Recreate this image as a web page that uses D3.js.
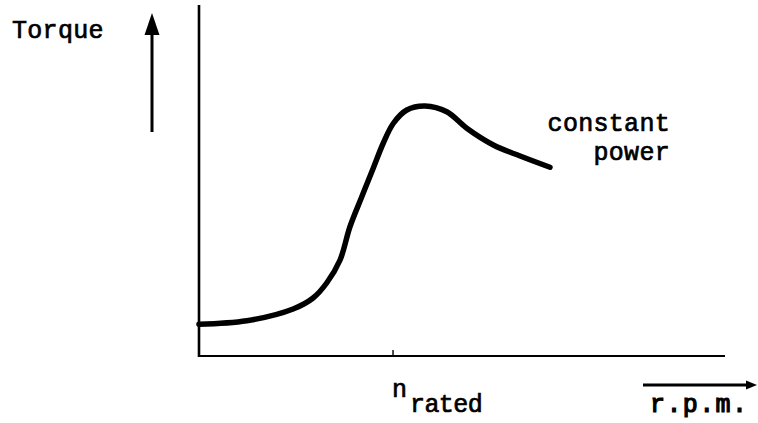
<!DOCTYPE html>
<html>
<head>
<meta charset="utf-8">
<script src="https://cdn.jsdelivr.net/npm/d3@7"></script>
<style>
  html, body { margin: 0; padding: 0; background: #fff; }
  svg { display: block; }
  text { font-family: "Liberation Mono", "Courier New", monospace; fill: #000;
         stroke: #000; stroke-width: 0.7px; }
</style>
</head>
<body>
<svg id="chart" width="758" height="423"></svg>
<script>
// Speed relative to rated speed (n / n_rated)
const speed = [0, 0.246, 0.485, 0.588, 0.658, 0.727, 0.778, 0.839, 0.898, 0.95,
               1.002, 1.071, 1.165, 1.277, 1.38, 1.517, 1.655, 1.809];
// Torque relative to peak torque
const torque = [0.127, 0.141, 0.188, 0.232, 0.292, 0.384, 0.517, 0.637, 0.751, 0.852,
                0.931, 0.984, 1.0, 0.977, 0.911, 0.844, 0.8, 0.755];
const ratedTick = [1.0];
const tickLabels = ["n", "rated"];
const yLabel = "Torque";
const xLabel = "r.p.m.";
const curveNote = ["constant", "power"];

const svg = d3.select("#chart");
const plotLeft = 199, plotRight = 725, plotTop = 5, plotBottom = 356;

const x = d3.scaleLinear().domain([0, 2.711]).range([plotLeft, plotRight]);
const y = d3.scaleLinear().domain([0, 1.404]).range([plotBottom, plotTop]);

// Axes: plain lines forming the frame
svg.append("line")
  .attr("x1", x(0)).attr("x2", x(0))
  .attr("y1", y(1.404)).attr("y2", y(0) + 1)
  .attr("stroke", "#000").attr("stroke-width", 2.6);
svg.append("line")
  .attr("x1", x(0) - 1).attr("x2", x(2.711))
  .attr("y1", y(0)).attr("y2", y(0))
  .attr("stroke", "#000").attr("stroke-width", 2.2);

// Rated speed tick
svg.selectAll(".tick").data(ratedTick).enter().append("line")
  .attr("x1", d => x(d)).attr("x2", d => x(d))
  .attr("y1", y(0) - 6).attr("y2", y(0))
  .attr("stroke", "#000").attr("stroke-width", 1.4);

// Torque-speed curve
const pts = speed.map((s, i) => [s, torque[i]]);
const line = d3.line()
  .x(d => x(d[0])).y(d => y(d[1]))
  .curve(d3.curveCatmullRom.alpha(0.5));
svg.append("path")
  .attr("d", line(pts))
  .attr("fill", "none")
  .attr("stroke", "#000")
  .attr("stroke-width", 5.5)
  .attr("stroke-linecap", "round")
  .attr("stroke-linejoin", "round");

// Torque direction arrow
const ax = 152;
svg.append("line")
  .attr("x1", ax).attr("x2", ax).attr("y1", 132).attr("y2", 32)
  .attr("stroke", "#000").attr("stroke-width", 3);
svg.append("path")
  .attr("d", d3.line()([[ax, 13], [ax + 7.5, 35], [ax - 7.5, 35]]) + "Z")
  .attr("fill", "#000");

// Speed direction arrow
const ay = 385;
svg.append("line")
  .attr("x1", 643).attr("x2", 750).attr("y1", ay).attr("y2", ay)
  .attr("stroke", "#000").attr("stroke-width", 3);
svg.append("path")
  .attr("d", d3.line()([[757, ay], [746, ay - 4.5], [746, ay + 4.5]]) + "Z")
  .attr("fill", "#000");

// Labels
const fs = 25;
svg.append("text").attr("x", 12).attr("y", 38)
  .attr("font-size", fs).attr("letter-spacing", 0.3).text(yLabel);

svg.append("text").attr("x", 650).attr("y", 412)
  .attr("font-size", fs).attr("letter-spacing", 1.4)
  .style("stroke-width", "1.2px").text(xLabel);

svg.append("text").attr("x", x(ratedTick[0]) - 1).attr("y", 397)
  .attr("font-size", fs).text(tickLabels[0]);
svg.append("text").attr("x", x(ratedTick[0]) + 17).attr("y", 412)
  .attr("font-size", fs).attr("letter-spacing", -0.6).text(tickLabels[1]);

svg.append("text").attr("x", 670).attr("y", 131)
  .attr("text-anchor", "end")
  .attr("font-size", fs).attr("letter-spacing", 0.3).text(curveNote[0]);
svg.append("text").attr("x", 670).attr("y", 160)
  .attr("text-anchor", "end")
  .attr("font-size", fs).attr("letter-spacing", 0.3).text(curveNote[1]);
</script>
</body>
</html>
